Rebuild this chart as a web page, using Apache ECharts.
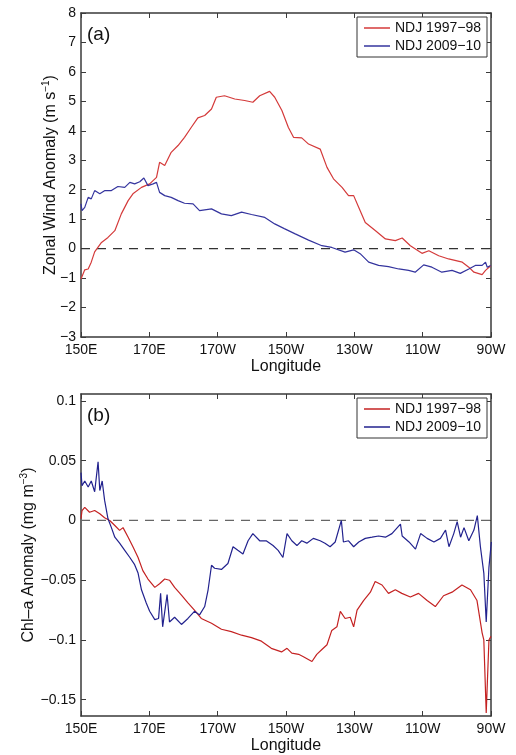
<!DOCTYPE html>
<html><head><meta charset="utf-8">
<script src="https://cdn.jsdelivr.net/npm/echarts@6/dist/echarts.min.js"></script>
<style>html,body{margin:0;padding:0;background:#fff}#c{width:516px;height:755px}</style>
</head><body><div id="c"></div>
<script>
// ---- tick labels / categories ----
const lonTicks = [150, 170, 190, 210, 230, 250, 270];
const lonTickLabels = ['150E', '170E', '170W', '150W', '130W', '110W', '90W'];
const windTicks = [-3, -2, -1, 0, 1, 2, 3, 4, 5, 6, 7, 8];
const chlTicks = [-0.15, -0.1, -0.05, 0, 0.05, 0.1];
const seriesNames = ['NDJ 1997\u221298', 'NDJ 2009\u221210'];

// ---- panel (a): zonal wind anomaly ----
const windLon9798 = [150.0,151.1,152.1,153.0,154.0,156.0,157.9,159.9,161.8,163.8,165.2,167.7,170.1,172.1,173.0,174.5,176.4,178.4,180.3,182.3,184.2,186.2,188.2,189.6,192.0,195.0,197.9,200.3,202.3,205.2,206.7,208.8,210.7,212.2,214.6,216.6,220.0,222.0,223.9,226.4,228.3,229.8,231.3,233.2,236.2,239.1,242.0,244.0,246.4,249.8,251.8,254.7,257.6,261.6,263.5,265.0,267.4,268.4,269.9];
const wind9798 = [-1.03,-0.72,-0.69,-0.46,-0.11,0.21,0.38,0.61,1.18,1.63,1.86,2.08,2.20,2.42,2.93,2.82,3.27,3.50,3.78,4.12,4.44,4.52,4.74,5.14,5.19,5.08,5.03,4.97,5.19,5.34,5.14,4.69,4.11,3.78,3.76,3.55,3.38,2.76,2.37,2.08,1.80,1.80,1.40,0.89,0.61,0.33,0.27,0.36,0.10,-0.16,-0.07,-0.24,-0.35,-0.46,-0.63,-0.80,-0.88,-0.74,-0.58];
const windLon0910 = [150.0,150.3,151.1,152.1,153.0,154.0,155.5,157.0,158.9,160.8,162.8,164.3,165.7,167.2,168.4,169.6,171.1,172.1,173.0,174.5,176.4,178.4,180.3,182.8,184.7,188.2,191.1,194.0,197.0,199.9,203.8,206.7,209.5,212.7,216.6,220.5,223.4,227.3,229.8,231.7,234.2,237.1,240.0,243.0,245.9,247.8,250.3,252.7,255.6,258.6,261.0,263.5,265.4,267.4,268.4,268.9,269.9];
const wind0910 = [1.52,1.29,1.40,1.74,1.69,1.97,1.86,1.97,1.97,2.11,2.08,2.25,2.20,2.27,2.40,2.14,2.20,2.25,1.91,1.80,1.74,1.63,1.54,1.52,1.29,1.35,1.18,1.12,1.24,1.16,1.06,0.84,0.68,0.50,0.29,0.10,0.04,-0.12,-0.04,-0.17,-0.46,-0.57,-0.61,-0.69,-0.74,-0.80,-0.55,-0.63,-0.80,-0.74,-0.84,-0.69,-0.57,-0.57,-0.46,-0.63,-0.57];

// ---- panel (b): chlorophyll-a anomaly ----
const chlLon9798 = [150.0,150.3,151.1,152.5,154.0,155.5,156.9,158.4,159.9,161.3,162.3,163.8,165.2,166.7,168.1,169.6,171.6,173.0,174.5,175.9,177.4,179.4,181.3,183.2,185.2,188.2,191.1,194.0,197.0,199.9,202.8,205.7,208.7,210.3,211.7,213.7,215.1,217.6,219.0,220.5,222.0,223.4,224.9,225.9,227.3,228.8,229.8,230.8,232.7,234.7,236.1,238.1,240.0,242.0,243.9,246.4,248.8,251.3,253.7,256.1,258.6,261.5,264.0,265.9,267.4,267.9,268.6,269.4,270.0];
const chl9798 = [0.0014,0.0083,0.011,0.0069,0.0083,0.0056,0.0022,0.0,-0.0042,-0.0083,-0.006,-0.014,-0.022,-0.031,-0.042,-0.049,-0.056,-0.053,-0.049,-0.050,-0.056,-0.0625,-0.069,-0.075,-0.082,-0.086,-0.091,-0.093,-0.096,-0.098,-0.101,-0.107,-0.110,-0.107,-0.111,-0.112,-0.114,-0.118,-0.112,-0.108,-0.104,-0.092,-0.089,-0.076,-0.082,-0.081,-0.089,-0.075,-0.067,-0.060,-0.051,-0.054,-0.061,-0.058,-0.061,-0.064,-0.061,-0.067,-0.072,-0.063,-0.060,-0.054,-0.058,-0.067,-0.094,-0.100,-0.161,-0.100,-0.097];
const chlLon0910 = [150.0,150.3,151.1,152.1,153.0,154.0,155.0,155.5,156.2,156.9,157.9,158.9,159.9,161.3,162.8,164.3,165.7,166.7,167.7,169.1,170.1,171.6,172.7,173.3,173.9,175.2,175.9,177.4,179.4,181.3,183.2,184.7,186.2,187.2,188.2,189.1,191.1,193.0,194.5,195.9,197.4,198.9,200.3,202.3,204.2,206.2,207.7,209.1,210.3,211.7,213.2,214.6,216.1,218.0,220.0,221.4,222.9,224.4,226.2,226.8,228.3,229.8,231.3,233.2,235.2,237.1,239.1,241.0,243.5,244.0,246.0,247.9,249.4,251.3,253.3,255.2,256.7,257.7,259.1,260.1,261.1,262.1,263.5,265.0,266.0,266.9,267.9,268.6,269.4,270.1];
const chl0910 = [0.040,0.029,0.033,0.028,0.033,0.024,0.049,0.025,0.033,0.017,0.0014,-0.006,-0.014,-0.019,-0.025,-0.031,-0.037,-0.044,-0.058,-0.069,-0.076,-0.083,-0.082,-0.061,-0.089,-0.062,-0.085,-0.081,-0.087,-0.082,-0.076,-0.079,-0.072,-0.058,-0.0375,-0.040,-0.041,-0.036,-0.022,-0.025,-0.028,-0.017,-0.011,-0.017,-0.017,-0.021,-0.025,-0.031,-0.011,-0.017,-0.021,-0.017,-0.019,-0.015,-0.017,-0.019,-0.022,-0.018,0.0,-0.018,-0.017,-0.022,-0.018,-0.015,-0.014,-0.013,-0.014,-0.011,-0.003,-0.013,-0.018,-0.024,-0.011,-0.015,-0.018,-0.015,-0.008,-0.022,-0.011,-0.001,-0.014,-0.006,-0.017,-0.008,0.004,-0.022,-0.044,-0.085,-0.039,-0.018];

const zip = (xs, ys) => xs.map((x, i) => [x, ys[i]]);
const minus = s => String(s).replace('-', '\u2212');
const lonFmt = v => { const i = lonTicks.indexOf(v); return i >= 0 ? lonTickLabels[i] : ''; };

const FONT = 'Liberation Sans, Arial, Helvetica, sans-serif';
const AX = '#3a3a3a';
const RED = '#d43a3a', BLUE = '#34349e';
const RED_B = '#c42222', BLUE_B = '#22228e';

const grids = [
  { left: 81, top: 13, width: 410, height: 324 },
  { left: 81, top: 394, width: 410, height: 323 }
];

function xAx(gi, pos, withLabels) {
  return {
    type: 'value', gridIndex: gi, position: pos, min: 150, max: 270, interval: 20,
    axisLine: { show: true, onZero: false, lineStyle: { color: AX, width: 1.5 } },
    axisTick: { show: true, inside: true, length: 5, lineStyle: { color: AX, width: 1 } },
    axisLabel: { show: withLabels, formatter: lonFmt, color: '#111', fontSize: 14, fontFamily: FONT, margin: 6, showMinLabel: true, showMaxLabel: true },
    splitLine: { show: false },
    name: withLabels ? 'Longitude' : '', nameLocation: 'middle', nameGap: 22, nameMoveOverlap: false,
    nameTextStyle: { color: '#111', fontSize: 16, fontFamily: FONT }
  };
}
function yAx(gi, pos, withLabels, min, max, ticks, nameRich, nameGap) {
  return {
    type: 'value', gridIndex: gi, position: pos, min: min, max: max,
    axisLine: { show: true, onZero: false, lineStyle: { color: AX, width: 1.5 } },
    axisTick: { show: true, inside: true, length: 5, customValues: ticks, lineStyle: { color: AX, width: 1 } },
    axisLabel: { show: withLabels, customValues: ticks, formatter: v => minus(v), color: '#111', fontSize: 14, fontFamily: FONT, margin: 5 },
    splitLine: { show: false },
    name: withLabels ? nameRich : '', nameLocation: 'middle', nameGap: nameGap, nameRotate: 90, nameMoveOverlap: false,
    nameTextStyle: {
      color: '#111', fontSize: 16, fontFamily: FONT,
      rich: {
        n: { fontSize: 16, fontFamily: FONT, color: '#111', lineHeight: 20 },
        s: { fontSize: 10, fontFamily: FONT, color: '#111', verticalAlign: 'top', lineHeight: 12 }
      }
    }
  };
}

function line(name, xi, yi, data, color) {
  return { type: 'line', name: name, xAxisIndex: xi, yAxisIndex: yi, data: data, symbol: 'none', showSymbol: false,
    lineStyle: { color: color, width: 1.2 }, itemStyle: { color: color }, animation: false, z: 3 };
}
function zeroLine(xi, yi, color) {
  return { type: 'line', name: 'zero', xAxisIndex: xi, yAxisIndex: yi, data: [[150, 0], [270, 0]], symbol: 'none',
    lineStyle: { color: color, width: 1.3, type: [9, 7] }, silent: true, animation: false, z: 2 };
}
function legend(top, c1, c2) {
  return {
    orient: 'vertical', left: 357, top: top, padding: [3, 6, 3, 7],
    borderColor: '#333', borderWidth: 1, backgroundColor: '#fff', borderRadius: 0,
    icon: 'rect', itemWidth: 26, itemHeight: 1.5, itemGap: 2, selectedMode: false,
    textStyle: { color: '#111', fontSize: 14, fontFamily: FONT, lineHeight: 16 },
    data: [{ name: seriesNames[0], itemStyle: { color: c1 } }, { name: seriesNames[1], itemStyle: { color: c2 } }]
  };
}

const option = {
  backgroundColor: '#fff',
  animation: false,
  grid: grids,
  xAxis: [xAx(0, 'bottom', true), xAx(0, 'top', false), xAx(1, 'bottom', true), xAx(1, 'top', false)],
  yAxis: [
    yAx(0, 'left', true, -3, 8, windTicks, '{n|Zonal Wind Anomaly (m s}{s|\u22121}{n|)}', 20),
    yAx(0, 'right', false, -3, 8, windTicks, '', 0),
    yAx(1, 'left', true, -0.1636, 0.1058, chlTicks, '{n|Chl\u2013a Anomaly (mg m}{s|\u22123}{n|)}', 42),
    yAx(1, 'right', false, -0.1636, 0.1058, chlTicks, '', 0)
  ],
  legend: [legend(17, RED, BLUE), legend(398, RED_B, BLUE_B)],
  graphic: [
    { type: 'text', left: 87, top: 25, style: { text: '(a)', fontSize: 19, fontFamily: FONT, fill: '#111' } },
    { type: 'text', left: 87, top: 406, style: { text: '(b)', fontSize: 19, fontFamily: FONT, fill: '#111' } }
  ],
  series: [
    zeroLine(0, 0, '#333'),
    line(seriesNames[0], 0, 0, zip(windLon9798, wind9798), RED),
    line(seriesNames[1], 0, 0, zip(windLon0910, wind0910), BLUE),
    zeroLine(2, 2, '#666'),
    line(seriesNames[0], 2, 2, zip(chlLon9798, chl9798), RED_B),
    line(seriesNames[1], 2, 2, zip(chlLon0910, chl0910), BLUE_B)
  ]
};
const chart = echarts.init(document.getElementById('c'), null, { renderer: 'canvas' });
chart.setOption(option);
</script></body></html>
